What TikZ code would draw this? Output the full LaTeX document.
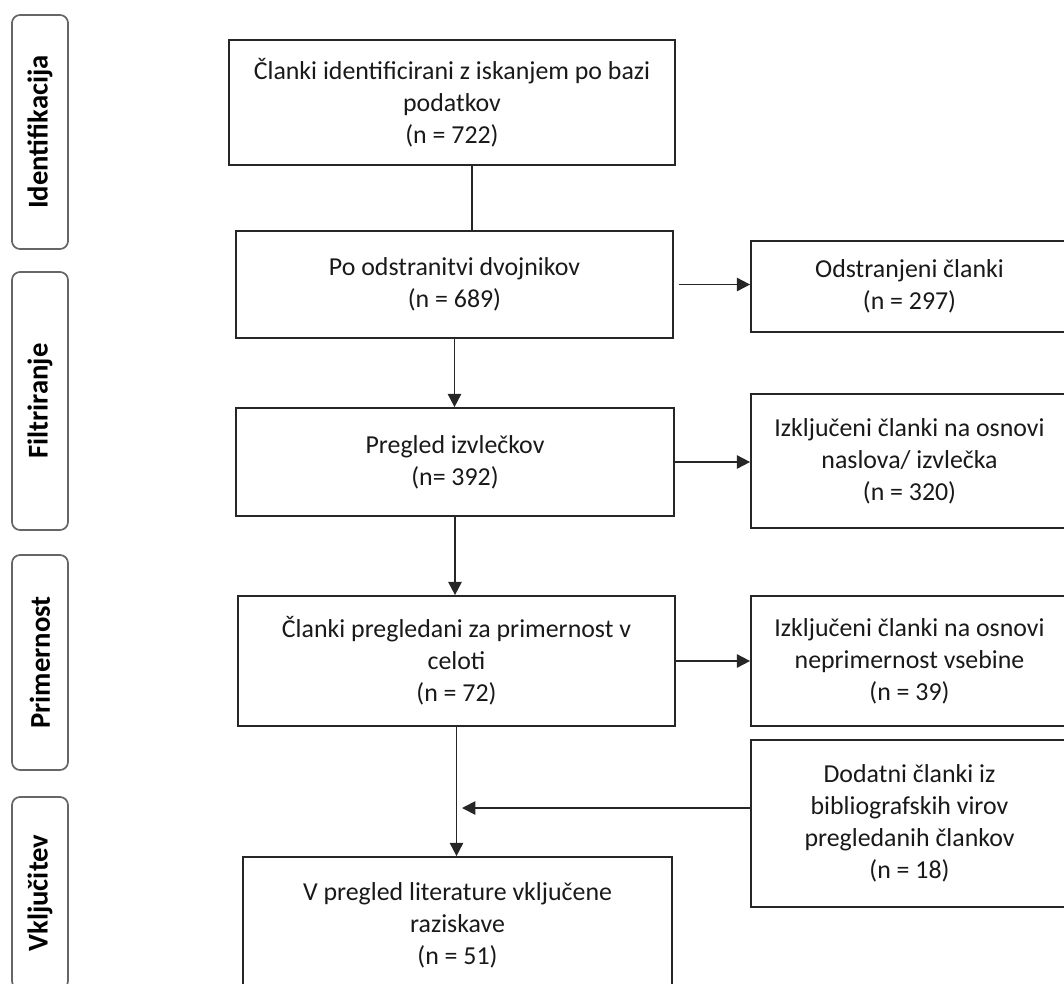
\documentclass[tikz,border=0pt]{standalone}
\usepackage{fontspec}
\setmainfont{Carlito}
\usetikzlibrary{arrows.meta,calc}
\begin{document}
\begin{tikzpicture}[x=0.75pt,y=-0.75pt,
 box/.style={draw=black!85, line width=1.3pt, align=center, inner sep=0pt, font=\fontsize{19.4}{24}\selectfont, text=black!90},
 lab/.style={draw=black!60, line width=1.3pt, rounded corners=6pt, rotate=90, inner sep=0pt, font=\bfseries\fontsize{21.5}{22}\selectfont, minimum height=42pt},
 arr/.style={line width=1.4pt, draw=black!85, -{Triangle[length=10pt,width=10pt]}},
 ln/.style={line width=1.4pt, draw=black!85}]
\useasboundingbox (0,0) rectangle (1064,983);
\clip (0,0) rectangle (1064,983);
% left phase labels
\node[lab, minimum width=175.5pt] (l1) at (40,132) {Identifikacija};
\node[lab, minimum width=193.5pt] (l2) at (40,401) {Filtriranje};
\node[lab, minimum width=161.25pt] (l3) at (40,662.5) {Primernost};
\node[lab, minimum width=144pt] (l4) at (40,893) {Vključitev};
% main column
\node[box, minimum width=334.5pt, minimum height=93.75pt] (b1) at (452,102.5) {Članki identificirani z iskanjem po bazi\\podatkov\\(n = 722)};
\node[box, minimum width=327.75pt, minimum height=80.25pt] (b2) at (454.5,284.5) {Po odstranitvi dvojnikov\\(n = 689)};
\node[box, minimum width=328.5pt, minimum height=81pt] (b3) at (455,462) {Pregled izvlečkov\\(n= 392)};
\node[box, minimum width=327.75pt, minimum height=97.5pt] (b4) at (456.5,661) {Članki pregledani za primernost v\\celoti\\(n = 72)};
\node[box, minimum width=321.75pt, minimum height=102pt] (b5) at (457.5,925) {V pregled literature vključene\\raziskave\\(n = 51)};
% right column
\node[box, minimum width=237.75pt, minimum height=68.25pt] (r1) at (909.5,286.5) {Odstranjeni članki\\(n = 297)};
\node[box, minimum width=237.75pt, minimum height=100.5pt] (r2) at (909.5,461) {Izključeni članki na osnovi\\naslova/ izvlečka\\(n = 320)};
\node[box, minimum width=237.75pt, minimum height=97.5pt] (r3) at (909.5,661) {Izključeni članki na osnovi\\neprimernost vsebine\\(n = 39)};
\node[box, minimum width=237.75pt, minimum height=125.25pt] (r4) at (909.5,823.5) {Dodatni članki iz\\bibliografskih virov\\pregledanih člankov\\(n = 18)};
% connectors
\coordinate (c1) at (472,0);
\draw[ln] (b1.south -| c1) -- (b2.north -| c1);
\draw[arr, shorten <=3.75pt] (b2.east) -- (b2.east -| r1.west);
\draw[arr] (b2.south) -- (b2.south |- b3.north);
\draw[arr] (b3.east) -- (b3.east -| r2.west);
\draw[arr] (b3.south) -- (b3.south |- b4.north);
\draw[arr] (b4.east) -- (b4.east -| r3.west);
\draw[arr] (b4.south) -- (b4.south |- b5.north);
\coordinate (m) at (462,808);
\draw[arr] (r4.west |- m) -- (m);
\end{tikzpicture}
\end{document}
